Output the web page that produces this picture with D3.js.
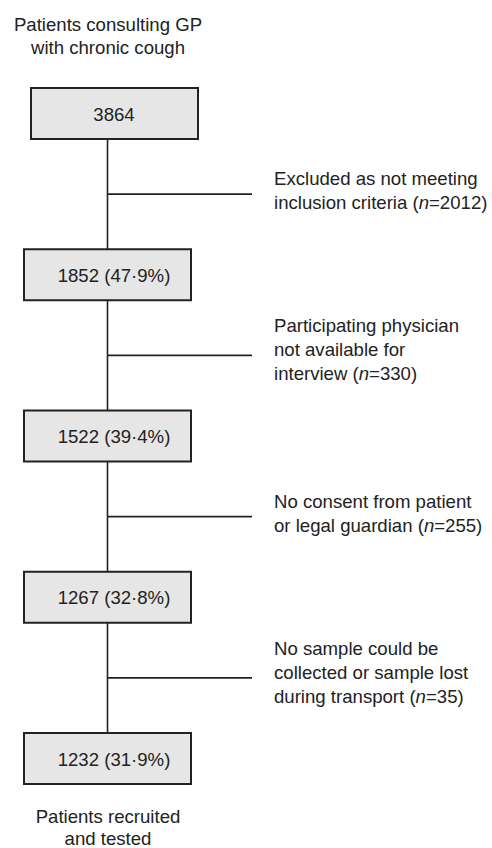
<!DOCTYPE html>
<html>
<head>
<meta charset="utf-8">
<script src="https://cdn.jsdelivr.net/npm/d3@7"></script>
<style>
  body { margin: 0; background: #fff; }
  text { font-family: "Liberation Sans", Arial, sans-serif; fill: #222; }
</style>
</head>
<body>
<div id="plot"></div>
<script>
// flow counts, top to bottom
const counts = [3864, 1852, 1522, 1267, 1232];
const percents = [null, "47·9", "39·4", "32·8", "31·9"];

// exclusions between consecutive boxes
const excludedN = [2012, 330, 255, 35];
const excludedText = [
  ["Excluded as not meeting", "inclusion criteria ("],
  ["Participating physician", "not available for", "interview ("],
  ["No consent from patient", "or legal guardian ("],
  ["No sample could be", "collected or sample lost", "during transport ("]
];

const topLabel = ["Patients consulting GP", "with chronic cough"];
const bottomLabel = ["Patients recruited", "and tested"];

const svgWidth = 492, svgHeight = 848;
const boxW = 167, boxH = 51;
const lineX = 107.5;
const fontSize = 18.6;

const svg = d3.select("#plot").append("svg")
  .attr("width", svgWidth)
  .attr("height", svgHeight);

// box top positions
const yScale = d3.scalePoint()
  .domain(d3.range(counts.length))
  .range([88, 733]);

// first box sits slightly to the right in the original
const boxX = i => i === 0 ? 31 : 24;

const steps = counts.map((c, i) => ({ i, c, p: percents[i] }));

// vertical trunk
svg.append("line")
  .attr("x1", lineX).attr("x2", lineX)
  .attr("y1", yScale(0) + boxH)
  .attr("y2", yScale(counts.length - 1))
  .attr("stroke", "#222")
  .attr("stroke-width", 1.6);

// side branches
const branches = excludedN.map((n, i) => ({
  n, lines: excludedText[i],
  y: (yScale(i) + boxH + yScale(i + 1)) / 2
}));

svg.selectAll(".branch")
  .data(branches)
  .enter().append("line")
  .attr("class", "branch")
  .attr("x1", lineX).attr("x2", 252)
  .attr("y1", d => d.y).attr("y2", d => d.y)
  .attr("stroke", "#222")
  .attr("stroke-width", 1.6);

const notes = svg.selectAll(".note")
  .data(branches)
  .enter().append("text")
  .attr("class", "note")
  .style("font-size", fontSize + "px");

notes.each(function(d) {
  const t = d3.select(this);
  const k = d.lines.length;
  const first = k === 2 ? d.y - 9 : d.y - 23;
  d.lines.forEach((ln, j) => {
    const ts = t.append("tspan")
      .attr("x", 274)
      .attr("y", first + j * 24)
      .text(ln);
    if (j === k - 1) {
      t.append("tspan").style("font-style", "italic").text("n");
      t.append("tspan").text("=" + d.n + ")");
    }
  });
});

// boxes
svg.selectAll(".box")
  .data(steps)
  .enter().append("rect")
  .attr("class", "box")
  .attr("x", d => boxX(d.i))
  .attr("y", d => yScale(d.i))
  .attr("width", boxW)
  .attr("height", boxH)
  .attr("fill", "#e6e6e6")
  .attr("stroke", "#222")
  .attr("stroke-width", 2);

svg.selectAll(".count")
  .data(steps)
  .enter().append("text")
  .attr("class", "count")
  .attr("x", 114)
  .attr("y", d => yScale(d.i) + boxH / 2 + 7)
  .attr("text-anchor", "middle")
  .style("font-size", fontSize + "px")
  .text(d => d.p ? `${d.c} (${d.p}%)` : d.c);

// top and bottom captions
svg.selectAll(".top")
  .data(topLabel)
  .enter().append("text")
  .attr("class", "top")
  .attr("x", 108)
  .attr("y", (d, i) => 31 + i * 23)
  .attr("text-anchor", "middle")
  .style("font-size", fontSize + "px")
  .text(d => d);

svg.selectAll(".bottom")
  .data(bottomLabel)
  .enter().append("text")
  .attr("class", "bottom")
  .attr("x", 108)
  .attr("y", (d, i) => 823 + i * 22)
  .attr("text-anchor", "middle")
  .style("font-size", fontSize + "px")
  .text(d => d);
</script>
</body>
</html>
